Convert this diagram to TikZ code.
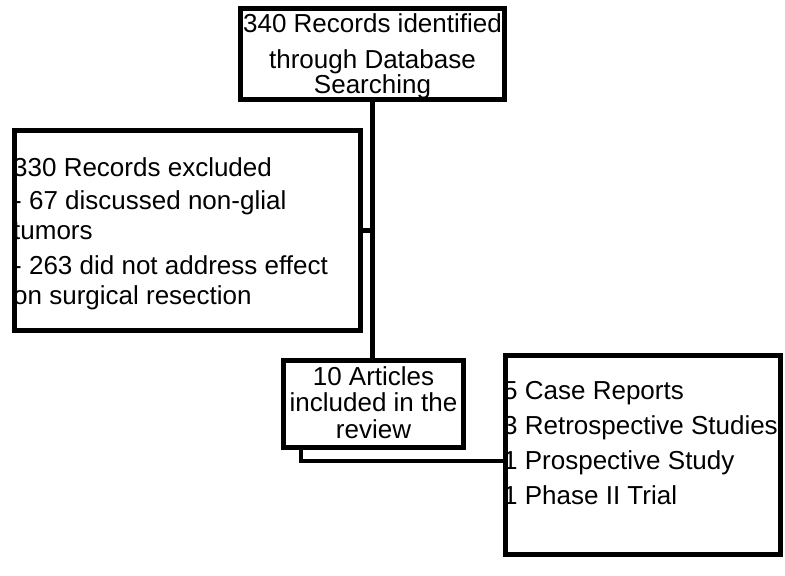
\documentclass[tikz,border=0pt]{standalone}
\usepackage{fontspec}
\setmainfont{Liberation Sans}
\usepackage{tikz}
\usetikzlibrary{positioning}

\begin{document}
\begin{tikzpicture}[x=1pt, y=-1pt,
    box/.style={draw=black, line width=4.8pt, rectangle, inner sep=0pt},
    txt/.style={inner sep=0pt, font=\fontsize{26}{30}\selectfont},
    link/.style={draw=black, line width=4.8pt}]
        \useasboundingbox (0, 0) rectangle (785, 576);

        % Boxes
        \node[box, minimum width=264pt, minimum height=91pt] (search) at (372.5, 54) {};
        \node[box, minimum width=346pt, minimum height=200pt] (excluded) at (187.5, 230.5) {};
        \node[box, minimum width=180pt, minimum height=87pt] (articles) at (373.5, 404) {};
        \node[box, minimum width=275pt, minimum height=199pt] (studies) at (643, 455) {};

        % Texts
        \node[txt, align=center, anchor=north, font=\fontsize{26}{25}\selectfont] (searchtxt) at (372.5, 13)
            {340 Records identified\\[11pt] through Database\\ Searching};
        \node[txt, align=left, anchor=north west] (excludedtxt) at (13, 157)
            {330 Records excluded\\[3pt] - 67 discussed non-glial\\ tumors\\[5pt] - 263 did not address effect\\ on surgical resection};
        \node[txt, align=center, anchor=north, font=\fontsize{26}{26.5}\selectfont] (articlestxt) at (373.5, 366)
            {10 Articles\\ included in the\\ review};
        \node[txt, align=left, anchor=north west, font=\fontsize{26}{35}\selectfont] (studiestxt) at (503, 381)
            {5 Case Reports\\ 3 Retrospective Studies\\ 1 Prospective Study\\ 1 Phase II Trial};

        % Connectors
        \coordinate (tap) at (301, 461);
        \draw[link] (search.south) -- (search.south |- articles.north);
        \draw[link] (excluded.east) -- (excluded.east -| search.south);
        \draw[link] (articles.south -| tap) |- (studies.west |- tap);
    \end{tikzpicture}
\end{document}
